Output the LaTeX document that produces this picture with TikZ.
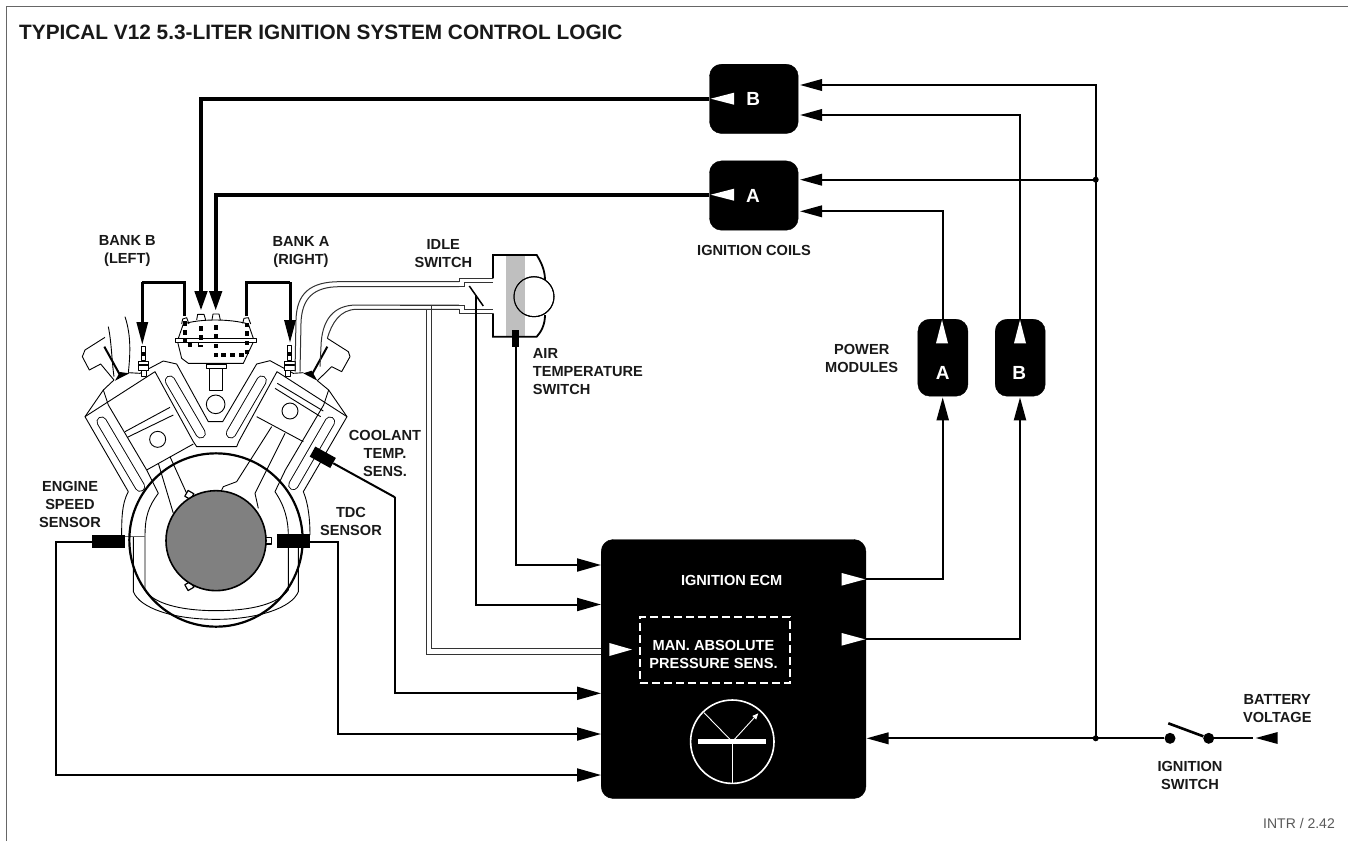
\documentclass[tikz,border=0pt]{standalone}
\usepackage{fontspec}
\setmainfont{Liberation Sans}
\usetikzlibrary{arrows.meta,calc}
\tikzset{
  lbl/.style={font=\fontsize{14.6}{18}\selectfont\bfseries,align=center,inner sep=0pt,text=black!90},
  wlbl/.style={lbl,text=white},
  letter/.style={font=\fontsize{19}{22}\selectfont\bfseries,text=white,inner sep=0pt},
  blackbox/.style={fill=black,draw=black,rounded corners=12pt,inner sep=0pt,anchor=north west},
  wire/.style={draw=black,line width=2pt,line join=miter},
  heavy/.style={draw=black,line width=4.4pt,line join=miter},
  medium/.style={draw=black,line width=3pt,line join=miter},
  ahead/.style={-{Triangle[length=24pt,width=13pt,fill=black]}},
  bhead/.style={-{Triangle[length=22pt,width=11.5pt,fill=black]}},
  wtip/.style={fill=white,draw=none},
  eng/.style={draw=black,line width=0.9pt,line join=round},
  tube/.style={draw=black!80,line width=1pt,line join=miter},
  slot/.style={double=white,double distance=8.5pt,line width=0.9pt,line cap=round,draw=black},
}
\begin{document}
\begin{tikzpicture}[x=1pt,y=-1pt]
\useasboundingbox (0,0) rectangle (1348,841);
\fill[white] (0,0) rectangle (1348,841);
% frame
\coordinate (frameTL) at (6.5,6.5);
\coordinate (frameBL) at (6.5,841);
\coordinate (frameTR) at (1348,6.5);
\draw[black!60,line width=1.8pt] (frameBL) -- (frameTL) -- (frameTR);
% title
\node[lbl,anchor=west,font=\fontsize{20.8}{24}\selectfont\bfseries] (title) at (19,32) {TYPICAL V12 5.3-LITER IGNITION SYSTEM CONTROL LOGIC};

% ---------- engine (drawn in zoomed coordinates)
\begin{scope}[shift={(40,220)},x=0.33333pt,y=-0.33333pt]
  % left head, block
  \draw[eng] (195,352)--(135,390)--(127,410)--(148,450)--(182,432)--(222,480)--(190,510)--(135,590)--(265,815)
     .. controls (245,850) and (245,900) .. (245,945);
  \draw[eng] (190,510)--(205,555)--(320,750)--(355,820) .. controls (325,860) and (315,890) .. (315,950)--(315,1110);
  \draw[eng] (135,590)--(345,455)--(460,665)--(470,680)--(590,680)--(596,665)--(711,455)--(921,590);
  \draw[eng] (265,458)--(300,460)--(370,423)--(410,432)--(505,605)--(548,605)--(650,432)--(690,422)--(760,460)--(790,458);
  \draw[eng] (320,750)--(460,672);
  \draw[eng] (255,635)--(390,562);
  \draw[eng] (262,652)--(400,585);
  \draw[eng] (353,658) circle (24);
  \draw[eng] (355,730)--(400,880);
  \draw[eng] (390,710)--(440,820);
  % right head
  \draw[eng] (862,355)--(925,395)--(930,410)--(905,455)--(875,440)--(832,482)--(866,510)--(921,590)--(790,815)
     .. controls (805,850) and (810,900) .. (810,945);
  \draw[eng] (866,510)--(851,555)--(736,750)--(705,815) .. controls (735,860) and (745,900) .. (745,950)--(745,1110);
  \draw[eng] (712,490)--(850,573);
  \draw[eng] (705,505)--(842,590);
  \draw[eng] (650,590)--(790,665);
  \draw[eng] (750,573) circle (24);
  \draw[eng] (695,620)--(590,785)--(550,800)--(545,810);
  \draw[eng] (735,640)--(645,820)--(655,865);
  % slots
  \draw[slot] (390,482)--(482,640);
  \draw[slot] (665,482)--(573,640);
  \draw[slot] (185,605)--(300,800);
  \draw[slot] (870,605)--(760,795);
  % crankcase
  \draw[eng] (280,950)--(280,1115) .. controls (300,1165) and (400,1198) .. (528,1198) .. controls (650,1198) and (755,1165) .. (775,1115)--(775,950);
  \draw[eng] (315,1110) .. controls (340,1150) and (420,1172) .. (528,1172) .. controls (640,1172) and (715,1150) .. (745,1110);
  \draw[black!60,line width=0.9pt] (254,950)--(315,950);
  % valve cover wires
  \draw[eng] (205,320) .. controls (215,370) and (215,420) .. (222,470);
  \draw[eng] (255,290) .. controls (275,350) and (270,410) .. (265,458);
  % rocker sticks and wedges
  \draw[black,line width=2pt] (193,380)--(240,465);
  \fill[black] (225,482)--(240,456)--(268,460)--cycle;
  \draw[black,line width=2pt] (862,380)--(815,465);
  \fill[black] (790,460)--(815,452)--(832,482)--cycle;
  % distributor
  \draw[eng] (413,366)--(425,415)--(445,430)--(610,430)--(640,366);
  \draw[eng] (415,355)--(430,312) .. controls (480,296) and (570,296) .. (625,312)--(640,355);
  \draw[eng,fill=white] (407,355) rectangle (650,366);
  \draw[eng] (425,312)--(428,297)--(440,293)--(447,312);
  \draw[eng] (470,300)--(473,283)--(492,283)--(497,300);
  \draw[eng] (516,300)--(519,282)--(537,282)--(541,300);
  \draw[eng] (608,310)--(612,295)--(625,293)--(632,312);
  \draw[eng] (498,432) rectangle (558,445);
  \draw[eng] (507,445) rectangle (548,510);
  \draw[eng] (527,553) circle (28);
  % plugs
  \draw[eng,fill=white] (304,378) rectangle (316,420);
  \fill[black] (302,395) rectangle (318,408);
  \draw[eng,fill=white] (294,425) rectangle (326,450);
  \fill[black] (294,432) rectangle (326,438);
  \draw[eng,fill=white] (304,450) rectangle (320,470);
  \draw[eng,fill=white] (742,376) rectangle (755,420);
  \fill[black] (740,395) rectangle (757,408);
  \draw[eng,fill=white] (733,425) rectangle (765,450);
  \fill[black] (733,432) rectangle (765,438);
  \draw[eng,fill=white] (737,450) rectangle (752,470);
  % tubes to throttle body
  \draw[tube] (1257,185)--(900,185) .. controls (810,185) and (770,220) .. (768,300)--(765,455);
  \draw[tube] (1257,200)--(900,200) .. controls (820,200) and (785,235) .. (783,310)--(780,455);
  \draw[tube] (1257,255)--(950,255) .. controls (880,255) and (845,300) .. (843,380)--(840,440);
  \draw[tube] (1257,268)--(950,268) .. controls (900,268) and (875,310) .. (862,355);
  % crank lobes
  \draw[eng,line width=1.2pt,rotate around={-30:(448,825)}] (438,815) rectangle (458,835);
  \draw[eng,line width=1.2pt,rotate around={30:(448,1098)}] (438,1088) rectangle (458,1108);
  \draw[eng,line width=1.2pt] (676,952) rectangle (694,972);
  \draw[black,line width=1.6pt,fill=black!50] (528,962) circle (150);
  \draw[black,line width=2.2pt] (528,960) circle (260);
  % distributor dots
  \foreach \p in {(435,310),(435,337),(435,362),(450,373),(482,325),(482,352),(527,322),(527,348),(527,378),(527,405),(550,405),(577,405),(604,405),(620,315),(620,340),(620,368),(620,395)}{
    \fill[black] \p ++(-6.5,-6.5) rectangle ++(13,13);
  }
  \draw[black,line width=1.6pt] (476,368)--(476,378)--(488,378);
\end{scope}

% ---------- sensors
\fill[black] (92.3,535) rectangle (124.7,548.3);
\fill[black] (277,534.3) rectangle (310,547.7);
\coordinate (essW) at (92.3,542);
\coordinate (tdcE) at (310,541.5);
\fill[black,rotate around={-29:(322.7,457.3)}] (311,451.5) rectangle (334.5,463);
\coordinate (coolE) at (333.3,463.3);
\coordinate (coolC) at (395,497.3);

% ---------- throttle body (idle and air switches)
\fill[black!25] (506,256) rectangle (525,336);
\draw[black,line width=1.8pt,line join=miter] (493,278.3)--(493,255)--(536.7,255) .. controls (541,262) and (545,270) .. (545,280);
\draw[black,line width=1.8pt,line join=miter] (545,315) .. controls (545,325) and (541,332) .. (536.7,336.7)--(493,336.7)--(493,313.3);
\draw[eng,fill=white,line width=1pt] (534,296.7) circle (20);
\begin{scope}
\clip (534,296.7) circle (19.5);
\fill[black!25] (506,256) rectangle (525,336);
\end{scope}
\draw[eng,line width=1pt] (534,296.7) circle (20);
\coordinate (airT) at (516,347);
\fill[black] (512,330) rectangle (519.3,347.3);
\draw[tube] (459.3,281.7)--(459.3,278.3)--(493,278.3);
\draw[tube] (400,281.7)--(459.3,281.7);
\draw[tube] (400,286.7)--(464,286.7)--(464,282.7)--(493,282.7);
\draw[tube] (400,305)--(464,305)--(464,309)--(493,309);
\draw[tube] (400,309.3)--(426,309.3);
\draw[tube] (431.7,309.3)--(459.3,309.3)--(459.3,313.3)--(493,313.3);
\draw[black,line width=1.5pt] (469.3,286)--(483.3,306);
\coordinate (idleW) at (476,295);

% ---------- ECM
\node[blackbox,minimum width=264.7pt,minimum height=259pt] (ecm) at (601,539.3) {};
\node[wlbl] (ecmlbl) at (731.7,580) {IGNITION ECM};
\node[draw=white,dash pattern=on 8pt off 4pt,line width=1.8pt,minimum width=150pt,minimum height=66pt,inner sep=0pt] (map) at (715,650.3) {};
\node[wlbl] (maplbl) at (713.5,654) {MAN. ABSOLUTE\\PRESSURE SENS.};
\node[circle,draw=white,line width=1.6pt,minimum size=83.4pt,inner sep=0pt] (gauge) at (732.3,741.7) {};
\fill[white] (698.3,739.3) rectangle (766,744);
\coordinate (gBase) at (732.3,741.7);
\draw[white,line width=0.9pt] (gBase)--(gauge.south);
\draw[white,line width=0.9pt] (gBase)--(704,712.7);
\draw[white,line width=0.9pt,-{Triangle[length=6pt,width=5pt,fill=white]}] (gBase)--(758.3,713.3);

% inputs
\coordinate (in1) at (601,565);
\coordinate (in2) at (601,604.5);
\coordinate (in4) at (601,693.3);
\coordinate (in5) at (601,734);
\coordinate (in6) at (601,775);
\draw[wire,ahead] (airT) |- (in1);
\draw[wire,ahead] (idleW) |- (in2);
\draw[wire] (coolE) -- (coolC);
\draw[wire,ahead] (coolC) |- (in4);
\draw[wire,ahead] (tdcE) -| (337.7,734) -- (in5);
\draw[wire,ahead] (essW) -| (55.7,775) -- (in6);
% MAP vacuum line
\coordinate (mapA) at (601,648);
\coordinate (mapB) at (601,654);
\draw[tube] (431.7,305) |- (mapA);
\draw[tube] (426,309.3) |- (mapB);
\fill[wtip] (632,649.5)--(609.3,643)--(609.3,656)--cycle;

% ---------- coils
\node[blackbox,minimum width=88.7pt,minimum height=69.3pt] (coilB) at (709.3,64) {};
\node[blackbox,minimum width=88.7pt,minimum height=69.3pt] (coilA) at (709.3,160.7) {};
\node[letter] (lB) at (753.3,99.3) {B};
\node[letter] (lA) at (753,196) {A};
\node[lbl] (coilsl) at (754,250.7) {IGNITION COILS};
\fill[wtip] (710.7,98.7)--(734,92.7)--(734,104.7)--cycle;
\fill[wtip] (710.7,194.7)--(734,188.7)--(734,200.7)--cycle;
\coordinate (distB) at (201,311);
\coordinate (distA) at (215.7,311);
\draw[heavy,-{Triangle[length=20pt,width=12pt,fill=black]}] (coilB.west |- 0,98.7) -| (distB);
\draw[heavy,-{Triangle[length=20pt,width=12pt,fill=black]}] (coilA.west |- 0,194.7) -| (distA);
\draw[medium] (184.7,316) -- (184.7,282.3) -- (142.3,282.3);
\coordinate (plugL) at (142.3,345);
\draw[medium,-{Triangle[length=23pt,width=11pt,fill=black]}] (142.3,282.3) -- (plugL);
\draw[medium] (246.7,316) -- (246.7,282.3) -- (290,282.3);
\coordinate (plugR) at (290,343);
\draw[medium,-{Triangle[length=23pt,width=11pt,fill=black]}] (290,282.3) -- (plugR);
\node[lbl] (bankb) at (127.3,251) {BANK B\\(LEFT)};
\node[lbl] (banka) at (301,252) {BANK A\\(RIGHT)};
\node[lbl] (idlel) at (443.3,254) {IDLE\\SWITCH};
\node[lbl,align=left,anchor=west] (airl) at (532.7,371.5) {AIR\\TEMPERATURE\\SWITCH};
\node[lbl] (cool) at (385,453) {COOLANT\\TEMP.\\SENS.};
\node[lbl] (essl) at (70,504.5) {ENGINE\\SPEED\\SENSOR};
\node[lbl] (tdcl) at (351,521) {TDC\\SENSOR};

% ---------- power modules
\node[blackbox,minimum width=50pt,minimum height=77pt] (pmA) at (917.7,319) {};
\node[blackbox,minimum width=50pt,minimum height=77pt] (pmB) at (995,319) {};
\node[letter] (pA) at (942.7,373.3) {A};
\node[letter] (pB) at (1019.3,372.7) {B};
\node[lbl] (pml) at (861.7,358) {POWER\\MODULES};
\fill[wtip] (942,320)--(936,343.3)--(948,343.3)--cycle;
\fill[wtip] (1020,320)--(1014,343.3)--(1026,343.3)--cycle;

% ---------- coil feeds
\coordinate (cB1) at (800,85);
\coordinate (cB2) at (800,115);
\coordinate (cA1) at (800,179.7);
\coordinate (cA2) at (800,211.3);
\coordinate (bus) at (1095.7,738.3);
\coordinate (busA) at (1095.7,179.7);
\draw[wire,bhead] (bus) |- (cB1);
\draw[wire,bhead] (busA) -- (cA1);
\draw[wire,bhead] (pmB.north) |- (cB2);
\draw[wire,bhead] (942.5,320) |- (cA2);
\fill[black] (busA) circle (3);
\fill[black] (bus) circle (3);

% ---------- ECM outputs
\coordinate (outA) at (865,579.3);
\coordinate (outB) at (865,639.3);
\coordinate (pmAin) at (942.7,397.3);
\coordinate (pmBin) at (1020,397.3);
\draw[wire,-{Triangle[length=23pt,width=12pt,fill=black]}] (outA) -| (pmAin);
\draw[wire,-{Triangle[length=23pt,width=12pt,fill=black]}] (outB) -| (pmBin);
\fill[wtip] (865,579.3)--(841.7,573)--(841.7,585.6)--cycle;
\fill[wtip] (865,639.3)--(841.7,633)--(841.7,645.6)--cycle;

% ---------- ignition switch
\node[circle,fill=black,minimum size=11pt,inner sep=0pt] (swA) at (1170,738.3) {};
\node[circle,fill=black,minimum size=11pt,inner sep=0pt] (swB) at (1208.7,738.3) {};
\coordinate (ecmIn) at (866.5,738.3);
\coordinate (batEnd) at (1253.3,738.3);
\draw[wire,bhead] (swA) -- (ecmIn);
\draw[black,line width=2.6pt] (1168.3,723.3) -- (swB);
\draw[wire] (swB) -- (batEnd);
\fill[black] (1255.7,738)--(1277.7,732)--(1277.7,744)--cycle;
\node[lbl] (batl) at (1277.3,708.3) {BATTERY\\VOLTAGE};
\node[lbl] (swl) at (1190,775.7) {IGNITION\\SWITCH};
\node[anchor=east,inner sep=0pt,font=\fontsize{14}{16}\selectfont,text=black!65] (ref) at (1335,823.3) {INTR / 2.42};
\end{tikzpicture}
\end{document}
